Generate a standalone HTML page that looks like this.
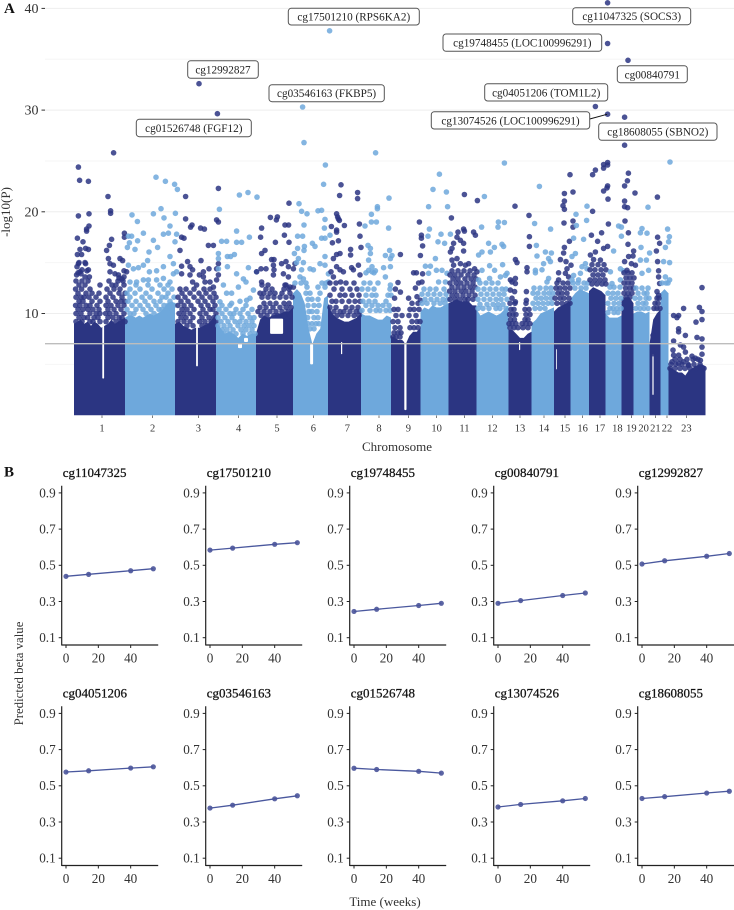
<!DOCTYPE html>
<html lang="en">
<head>
<meta charset="utf-8">
<title>Manhattan plot and predicted beta values</title>
<style>
html,body{margin:0;padding:0;background:#fff;width:734px;height:910px;overflow:hidden}
svg{display:block;font-family:"Liberation Serif",serif}
.bx{fill:#fff;stroke:#555;stroke-width:1}
.bt{font-size:11.2px;fill:#222;text-anchor:middle}
</style>
</head>
<body>
<svg id="fig" xmlns="http://www.w3.org/2000/svg" width="734" height="910" viewBox="0 0 734 910">
  <g id="grid"></g>
  <g id="dense"></g>
  <g id="points"></g>
  <g id="threshold"></g>
  <g id="axesA"></g>
  <g id="panels"></g>

  <text x="4" y="13" font-size="15" font-weight="bold" fill="#111">A</text>
  <text x="4" y="476.5" font-size="15" font-weight="bold" fill="#111">B</text>
  <text transform="translate(10,212) rotate(-90)" font-size="13" fill="#333" text-anchor="middle">-log10(P)</text>
  <text x="397" y="451" font-size="13" fill="#333" text-anchor="middle">Chromosome</text>
  <text transform="translate(23,673.5) rotate(-90)" font-size="12.8" fill="#333" text-anchor="middle">Predicted beta value</text>
  <text x="385" y="906" font-size="13" fill="#333" text-anchor="middle">Time (weeks)</text>

  <g><rect class="bx" x="187.7" y="60.7" width="70.6" height="17.6" rx="3"/><text class="bt" x="223" y="73.5">cg12992827</text></g>
  <g><rect class="bx" x="136.3" y="119.3" width="115" height="17.4" rx="3"/><text class="bt" x="193.8" y="132">cg01526748 (FGF12)</text></g>
  <g><rect class="bx" x="269" y="84.7" width="115.3" height="17" rx="3"/><text class="bt" x="326.6" y="97">cg03546163 (FKBP5)</text></g>
  <g><rect class="bx" x="288.3" y="8.3" width="131" height="16.7" rx="3"/><text class="bt" x="353.8" y="20.5">cg17501210 (RPS6KA2)</text></g>
  <g><rect class="bx" x="572.7" y="7.7" width="118" height="17" rx="3"/><text class="bt" x="631.7" y="20">cg11047325 (SOCS3)</text></g>
  <g><rect class="bx" x="443" y="34" width="158.7" height="17.3" rx="3"/><text class="bt" x="522.3" y="46.5">cg19748455 (LOC100996291)</text></g>
  <g><rect class="bx" x="617.3" y="65.7" width="70" height="17" rx="3"/><text class="bt" x="652.3" y="78.5">cg00840791</text></g>
  <g><rect class="bx" x="484.7" y="83.7" width="123" height="17.3" rx="3"/><text class="bt" x="546.2" y="96.5">cg04051206 (TOM1L2)</text></g>
  <line x1="589.7" y1="119" x2="607" y2="114.3" stroke="#111" stroke-width="1"/>
  <g><rect class="bx" x="431.3" y="111.7" width="158.4" height="17.3" rx="3"/><text class="bt" x="510.5" y="124.5">cg13074526 (LOC100996291)</text></g>
  <g><rect class="bx" x="598.7" y="123" width="118.3" height="17.3" rx="3"/><text class="bt" x="657.8" y="135.5">cg18608055 (SBNO2)</text></g>
</svg>

<script>
// ---- Panel A data: genome position in units of 10 Mb, value = -log10(P) ----
const chromNames = ['1','2','3','4','5','6','7','8','9','10','11','12','13','14','15','16','17','18','19','20','21','22','23'];
const chromLengths = [25.5,25,20.5,20,18.5,17.5,16.5,15,14.75,14,14,16,11.5,11.25,8.25,9.25,8.25,8,6,8,5.5,4,18.5];
const chromLabelPositions = [14,39.3,62.2,82.3,101.5,119.7,136.7,152.5,167.2,181.3,195.2,209.2,223,235,245.5,254.3,263,271.7,278.7,284.8,290.7,296.5,306.2];
const yMajorTicks = [10,20,30,40];
const yMinorTicks = [5,15,25,35];
const thresholdValue = 7.03;

// top of the fully saturated point mass, evenly sampled along each chromosome
const denseChr1 = [9,9.2,9.4,9,9.2,8.8,9.2,9,8.6,8.8,9,9.4,9,9.2,9.4,9.6];
const denseChr2 = [9.6,9.8,9.8,9.6,9.8,9.6,9.8,10,9.8,10,10.2,10.6,11,11.2,11];
const denseChr3 = [9,9.2,8.8,8.6,8.4,8.6,8.6,8.8,9,9.4,10];
const denseChr4 = [9.4,8.6,8,8.2,8,7.6,8,7.8,8,8];
const denseChr5 = [8,9.4,9.8,9.6,9.8,9.9,10,10.2,10.2,10.6];
const denseChr6 = [12,12.4,12,11,8.5,7,8,8.5,11.5,11.8];
const denseChr7 = [11,10,9.6,9.4,9.2,9.2,9.4,9.6,10];
const denseChr8 = [10,9.8,9.8,9.6,9.4,9.4,9.8,9.6];
const denseChr9 = [7.8,7.6,7.4,7.4,7,7.8,8.2,8.2,8.6];
const denseChr10 = [10.2,10.6,10.4,10.8,10.6,10.6,10.8,11];
const denseChr11 = [11,11.2,11.4,11.2,11.2,11.2,10.8,10.8];
const denseChr12 = [10.4,9.8,10,10.2,10,9.8,10,10.4,10.8];
const denseChr13 = [8.4,8.4,8,7.6,7.6,8,8.2];
const denseChr14 = [9,9.4,10,10.2,10.4,10.6];
const denseChr15 = [10.2,10.6,10.8,11,11.2];
const denseChr16 = [11.4,12,12.4,12.2,12];
const denseChr17 = [12.2,12.6,12.4,12.2,11.8];
const denseChr18 = [10,9.6,9.6,9.6,9.8];
const denseChr19 = [11.4,11.6,11.6,11];
const denseChr20 = [10,10.2,10.2,10,10.2];
const denseChr21 = [7,9.4,10,10.4];
const denseChr22 = [12,12.4,12];
const denseChr23 = [4.8,4.6,4.4,4.2,4.2,3.9,4.4,4.6,4.8,5,5,4.8];

// sparse genomic regions inside the mass: position, low value, high value, width
const sparsePositions = [14.6,61.5,83,86,101.3,118.8,133.8,165.7,222.8,241.2,289.5];
const sparseLows = [3.6,4.8,6.6,7.2,8,5,6,0.5,6.4,4.5,2];
const sparseHighs = [10.4,9,7.1,7.6,9.5,7,7.2,8,7.2,6.5,6];
const sparseWidths = [0.9,0.9,2,2,6.5,1.5,0.6,1.1,0.6,0.4,0.6];

// individually legible points
const pointsChr1 = [[2.2,24.4],[2.8,23.1],[7.2,23],[19.8,25.8],[17,21.5],[2.2,19.6],[7.5,19.8],[18.3,20.1],[18.3,19.85],[7.5,18.6],[6.3,18.3],[1.7,17.4],[6.3,18.1],[4.5,17.05],[5.8,16.4],[7.2,16.3],[3,16.3],[1.7,15.8],[3.8,15.8],[2.2,14.9],[5.8,14.9],[18.8,17.3],[16.3,16.2],[17.7,16.7],[17.2,15.4],[18,14.9],[19.7,14.75],[23,15.4],[24.3,15.2],[25.2,17.9],[25.2,17.5],[3,14.1],[7.2,14.3],[1.3,13.8],[5.5,13.6],[7.7,13.6],[13,12.8],[18,14.1],[20.5,13.9],[22.2,13.8],[25,14.2],[26.3,14.1],[1.5,14.6],[2.5,15],[4,14.3],[5.5,15],[6.5,14.2],[2,14],[3.5,13.9],[22.5,13.5],[24,13.4],[25,13.6]];
const pointsChr2 = [[41,23.4],[45.7,23],[50.3,22.7],[51.7,22.2],[29,19.7],[31.7,19.05],[39.7,19.8],[43.5,20.3],[45,19.4],[50.7,19.85],[48,18.6],[27.2,17.6],[28.8,17.6],[27.7,16.95],[30.5,16.3],[26.7,16.5],[31.8,17.15],[34.7,17.9],[39.7,17.2],[41.8,16.5],[37.5,16.05],[44.7,17.8],[47.2,17.9],[51.3,17.8],[50.5,17.05],[48,15.6],[49.7,14.9],[36.8,15.2],[34.7,14.75],[32.2,14.5],[29.7,14.4],[27.2,14.75],[44.7,14.6],[41.3,14.2],[37.7,14.1],[34.7,13.3],[37.2,13.3],[31.3,13.1],[28,13.1],[41.3,13.3],[44.7,13.45],[48,13.1],[49.7,13.9],[51.3,14.1]];
const pointsChr3 = [[62.5,32.6],[71.7,29.65],[72.2,22.3],[55.8,21.5],[55.8,19.3],[71.3,19.2],[72.2,19],[59,18.7],[58.3,18.5],[63.3,18.4],[65.2,18.3],[53,16.2],[53.8,17.5],[55,17.4],[67.2,16.7],[69.7,16.7],[56.8,15.1],[63.5,15.2],[72.2,14.9],[71.3,14.4],[53.8,14.65],[58,14.6],[59.3,14.3],[53.8,13.9],[58,13.8],[62.7,13.8],[64.7,13.6],[67.5,14.4],[64.7,14.1],[59.3,13.1],[61.3,12.8],[65.5,13.1],[68,13.1],[69.7,12.6],[72.2,13.8],[71.3,13.3]];
const pointsChr4 = [[72.7,20.25],[82.7,21.65],[87,21.9],[91.5,21.45],[81.3,18.1],[73.8,17.1],[76.3,17.1],[81.3,17],[83.8,17],[87.7,17.5],[72.2,15.9],[72.2,15.4],[76.7,15.6],[80.2,15.8],[78.3,15.6],[76.7,14.6],[72.2,14.4],[87.2,14.5],[81.3,13.9],[84.7,13.4],[86,13.1],[74.7,12.8],[76.3,12],[78.8,12],[82.2,12.6],[88,11.5],[89.7,12.3],[91.3,14.1],[73,11.15],[78.8,11],[83,11.2],[86.3,11.3]];
const pointsChr5 = [[107.5,20.85],[93.8,18.4],[98.2,19.45],[101.7,19.5],[101.2,19.2],[105.5,18.7],[107.3,18.7],[93.3,17.5],[105.2,17.7],[100.7,17],[107.5,17],[95.5,16.2],[93.8,15.9],[98.8,15.3],[100,15.3],[106,15.1],[103.8,14.9],[99.7,14.75],[100,14.3],[93.5,14.4],[96,14.4],[91.3,14.1],[107.2,14.6],[109.7,14.4],[110.5,14.9],[99.7,13.8],[104.7,13.9],[107.2,13.6],[93.8,13.1],[105.5,12.8],[108,12.6],[109.7,12.6]];
const pointsChr6 = [[127.8,37.8],[114.3,30.3],[115,26.8],[125.7,24.6],[124.8,22.7],[112.5,20.8],[113.8,20.05],[116.5,19.8],[122,20.1],[123.8,20.15],[125.5,19.25],[115,18.7],[125.2,18.4],[111.8,17.6],[114.3,17.6],[110.2,15.9],[111.8,16.4],[115.2,16.6],[115,16.2],[119.2,16.9],[120.5,16.6],[123.8,17.4],[128,17.7],[125.5,17.4],[125.5,15.6],[112.2,15.4],[114.7,15],[111.3,15],[113.8,14.3],[113,13.6],[114.7,13.4],[118,14.4],[119.7,14.3],[123,14.9],[125.5,14.75],[127.2,13.9],[127.2,13.1]];
const pointsChr7 = [[133.5,22.65],[132.8,21.6],[141.8,21.9],[141.8,21.3],[131.3,19.8],[131.8,19.5],[132.2,19.3],[132.7,19.15],[128.7,18.55],[135.2,18.65],[142.7,18.8],[131.3,18.2],[131.3,18],[132.2,17.15],[129.2,16.95],[138.3,16.3],[143.5,16.5],[143,17.6],[133,15.9],[131.3,15.8],[129.7,15.4],[138.3,15.75],[128.5,14.1],[131.3,14.6],[133,14.3],[134.7,14.1],[138.8,14.5],[139.7,14.3],[142.2,14.75],[143,13.8],[129.7,13.6],[133.3,13.1]];
const pointsChr8 = [[145.5,18.6],[150.8,25.8],[157.5,21.35],[151.7,20.5],[151.7,20.3],[148.7,19.75],[148.7,19],[151.2,19],[157.3,18.4],[148.2,16.4],[147,16.7],[148.2,15.9],[155.7,15.7],[157.8,16.2],[159,15.7],[158.2,15.4],[154.8,14.5],[158.2,14.6],[149,14.6],[147.3,15.25],[147.3,14.25],[149,14.1],[150.7,14.2],[155.7,13.6],[158.2,12.8]];
const pointsChr9 = [[172.7,19],[163.2,15.8],[173.7,17.7],[173.7,17.4],[174.3,16.65],[173.2,15.7],[169.8,14],[171.2,14],[174.3,13.9],[162,13.05],[174,13.1],[172.3,13],[170.7,12.5],[160.7,12.4],[163.2,12.1],[160.3,11.5],[167.3,11.5],[171.5,11.65],[173.2,11.3]];
const pointsChr10 = [[182.7,23.7],[179.5,22.2],[186.2,21.95],[177.3,20.5],[186.8,20.5],[177.7,18.3],[177,17.6],[182,17.05],[185.3,16.9],[183.5,17.8],[188.2,17.8],[180.7,15.4],[175.7,14.65],[178.2,14.65],[177.3,13.95],[181.2,14.25],[184,14.25],[182.3,13.1],[185.7,13.1],[186.5,13.95]];
const pointsChr11 = [[195.2,21.7],[201.7,21.1],[188.7,19.4],[194.8,18.3],[192,18],[195.2,18.1],[199.8,18],[200.7,17.7],[191.5,17.5],[193.2,17.2],[194.8,16.9],[189.8,16.9],[189,16.4],[188.2,16.05],[194.8,16.15],[191.5,15.4],[189,15.25],[189.8,14.75],[193.2,14.9],[197.3,14.9],[195.7,14.75],[200.3,14.4],[201.5,14.1]];
const pointsChr12 = [[215.2,24.8],[205.2,21.5],[212.2,19],[215.2,18.95],[212,18.5],[203.8,18.5],[204,16.05],[202.3,15.75],[207.3,16.9],[210.2,16.5],[208.2,16.05],[214,16.8],[214.8,16.6],[207.8,14.7],[214.3,14.8],[210.3,14.25],[204,14.25],[202.3,13.3],[207.8,13.45],[213.2,13.6],[215.7,13.75],[216.5,13.95]];
const pointsChr13 = [[220.5,20.55],[227.5,19.65],[227.7,17.55],[227.7,16.6],[220.7,15.3],[221.5,15],[226.5,14.5],[226.5,14.1],[218.2,13.3],[220.7,13.45],[219,13.1],[220.7,12.95],[218.2,12.3],[220.3,12.15],[226.2,12.15],[226.2,11.3],[219,11.5],[220.7,11.15]];
const pointsChr14 = [[232.7,22.5],[230.3,18.85],[238.3,18.3],[231.2,16.7],[231.5,15.65],[235.7,16.05],[238.7,15.95],[237.3,15.4],[234.8,14.9],[238.2,15.1],[230.7,14.25],[234,14.3],[230.7,14],[237.3,13.45],[236.5,13.1]];
const pointsChr15 = [[248,23.65],[245.2,21.8],[249.5,21.95],[245.2,21.05],[244.5,20.6],[245.2,20.25],[245,18.9],[249.5,19.1],[249.5,18.5],[245.2,16.5],[247.7,17.1],[244.8,15.95],[243.2,15.3],[246,15.1],[242.3,14],[246.5,14.4],[248.5,14.75],[245.7,13.95],[247.3,13.6],[242.3,13.3]];
const pointsChr16 = [[251,19.75],[256.5,20.55],[256.3,19.15],[251.2,18.65],[254.8,17.3],[249.8,17.4],[250.7,15.9],[249,15.6],[255.7,14.9],[254,14.6],[253.2,13.95],[249.8,13.75],[256.5,14.4],[249,13.3],[252.3,13.3]];
const pointsChr17 = [[266.8,40.55],[266.8,36.55],[260.7,30.35],[266.8,29.6],[260.7,24.1],[259.3,23.65],[264.8,24.65],[264.8,24.3],[266.8,24.85],[266.8,24.6],[266.8,22.55],[266.5,22.35],[264.8,22.05],[267,21.25],[259.3,20.05],[267.2,18.8],[263.8,17.94],[261.8,17.1],[258.7,17.7],[260.7,16.05],[258.2,15.75],[264.8,16.4],[266.8,16.6],[259.8,15.3],[263.2,15.25]];
const pointsChr18 = [[272.3,18.6],[273.7,18.5],[273.7,17.6],[269.8,16.15],[268.2,14.1],[273.2,14.4],[274.8,14.2],[269,12.95],[273.2,13.3]];
const pointsChr19 = [[277,34.9],[275.3,29.3],[275.3,26.55],[277.2,23.8],[276.7,23.05],[275.3,22.55],[280.5,21.85],[275.3,21.05],[275.3,20.5],[276.8,20.4],[275.5,19.1],[277.2,17.94],[277,16.8],[279.8,16.15],[279.5,15.65],[278.7,14.9],[280.7,14.75],[277.3,15.6],[275.3,15.1],[276.5,14.25]];
const pointsChr20 = [[287,20.45],[284,18.35],[283.2,17.94],[286.5,17.9],[283.5,16.5],[287.8,15.95],[283.2,15.25],[286.2,15.25],[287.3,14.25],[284,13.95]];
const pointsChr21 = [[291.7,21.45],[291.8,17.5],[292.8,16.9],[291.2,16.15],[291.8,15.1],[292.3,14.2],[292.3,13.6],[292.8,12.95],[291.5,12.15],[292.3,11.8],[289.5,7.85],[289.5,6.05]];
const pointsChr22 = [[298,24.9],[296.8,18.3],[297.7,17.55],[297.3,17.05],[295.7,16.5],[294.8,15.1],[297.8,15],[295.7,13.6],[297.8,13.3]];
const pointsChr23 = [[314,12.55],[312.7,10.6],[314,10.2],[304.8,10.5],[299.8,9.8],[302.3,9.8],[301.5,9.6],[314,9.4],[311,9.15],[302.3,8.5],[302.3,8.2],[305.7,7.85],[311.5,7.65],[314,7.5],[299.8,7.3],[314,6.7],[314,6],[303.2,6.9],[304.8,6.7],[305.7,6.2],[299.5,6.4],[299.8,5.9],[302.3,5.9],[304.8,5.25],[309,5.8],[310.7,5.6],[313.2,5.4],[299,5.25],[302.3,5.1],[307.3,4.9]];

// crowded band above the mass: each row is one value with the positions read along it
const rowsChr1 = [[13.2,[1,4,7,17.5,22,24.5]],[12.8,[2.5,5.5,19,21,25]],[12.4,[0.8,3.8,8,16.5,20,23]],[12,[2,6,9,12.5,18,22.5,25.5]],[11.6,[1,3.5,5,7.5,11,16,19.5,24]],[11.2,[2.5,4.5,9,13,17,21,23.5,25.5]],[10.8,[0.8,3,6,8,11.5,16,18.5,22,25]],[10.4,[2,4.5,7,9.5,12.5,17,20,23.5]],[10,[1,3.5,8,11,13,15.8,18,21,25]],[9.6,[2.5,5,6.8,10,12,17,19.5,22.5,24]],[9.2,[1,4,8,9.5,13,16,21,23.5,25.5]]];
const rowsChr2 = [[12.8,[31,37,43,47]],[12.4,[28,33,39,45,49]],[12,[26.5,30.5,36,42,47]],[11.6,[28,34,38,44,46,50]],[11.2,[27,31,35.5,40,43,48]],[10.8,[29,33,37,41,45,47,50]],[10.4,[26.5,31,34.5,38.5,42.5,44,49]],[10,[28,30,36,40,46,48]]];
const rowsChr3 = [[12.4,[53,56,60,65,68]],[12,[54,58,62.5,66,70]],[11.6,[52,55.5,60,64,68,71]],[11.2,[53.5,57,62,65.5,69.5]],[10.8,[52,55,58.5,63.5,67,70.5]],[10.4,[54,56.5,60,64.5,68,69.5]],[10,[52.5,55,58,63,66,71]],[9.6,[53.5,56,59.5,64,67.5,70]],[9.2,[52,55,58,62.8,65.5,68.5,71]],[8.8,[53,56.5,59.5,64,66.5,70]]];
const rowsChr4 = [[10.8,[74,78,86]],[10.4,[72.5,76,81,84.5,89]],[10,[74,78,80,83,87]],[9.6,[72,75.5,79,84,88,90]],[9.2,[73.5,77,80.5,83,86,89]],[8.8,[72,75,78,82,85,87.5,90]],[8.4,[74,76.5,79.5,83.5,86,89]],[8,[72.5,75,78,81,84.5,88,90.5]]];
const rowsChr5 = [[12.8,[94,97,106]],[12.4,[96,99,105,107.5]],[12,[93,95,98,100.5,104,108]],[11.6,[94,97,100,103,106,109]],[11,[95,98,101,105,107.5]],[10.6,[93,96,99.5,103,106,108.5]],[10.2,[92,95,98,101,104,107]],[9.8,[93.5,96.5,100,102,105,108]]];
const rowsChr6 = [[13,[110.5,113.5,116,124,126]],[12.6,[116.5,122,125.5]],[12,[116,118,123]],[11.4,[117,119,122]],[10.8,[117,120,122.5]],[10.2,[117.5,119,121.5]],[9.6,[116.8,120,122]],[9,[117,119,121,122.5]],[8.5,[118,120]]];
const rowsChr7 = [[13,[128,131,136,140]],[12.4,[130,134,138,141.5]],[11.8,[128,133,135.5,139,142.5]],[11.2,[129,131,134,137.5,140.5,143]],[10.6,[128,131,136,139,142]],[10.2,[130,133,135,138,141,143]],[9.8,[128.5,131.5,134,137,140,142.5]]];
const rowsChr8 = [[14,[146,150]],[13,[145,148,152]],[12.4,[144,147,150,158]],[11.8,[146,149,151,157,158.5]],[11.2,[144.5,147.5,150.5,156]],[10.8,[146,149,152,154.5,157.5]],[10.3,[144,148,151,153,156,158]]];
const rowsChr9 = [[11,[169,172]],[10.4,[160,162,168,170,172.5]],[9.8,[161,164,167.5,171]],[9.2,[159.5,162,169,171.5,173]],[8.6,[160.5,163,168,170,172]],[8.1,[160,162,163.5]],[7.7,[159.5,161,163]]];
const rowsChr10 = [[12.4,[175,178,181,185]],[11.9,[174,177,180,183,186]],[11.4,[175.5,178.5,181.5,184.5,186.8]],[11,[174,176.5,180,183,185.5]]];
const rowsChr11 = [[14.2,[189,192,195,198]],[13.8,[188,190.5,193.5,197,200]],[13.4,[189.5,192,195.5,198.5,201]],[13,[188,191,193.5,196.5,199.5]],[12.6,[189,192,195,198,200.5]],[12.2,[187.8,190.5,193.5,196,199]],[11.8,[189,191.5,194.5,197.5,200.5]],[11.4,[188,190.5,193,195.5,197,199.5]]];
const rowsChr12 = [[13,[203,206,209,212]],[12.4,[202,205,208,211,214,216]],[11.9,[203.5,206.5,209.5,212.5,215]],[11.4,[202,205,208,211,213.5,216.5]],[10.9,[203,206.5,209.5,212,214.5]],[10.5,[202,204.5,207.5,211,213,216]]];
const rowsChr13 = [[11,[218,220.5,226]],[10.4,[218.5,220,225.5,227.5]],[9.9,[217.8,219.5,221,226,228]],[9.4,[218.3,220.2,225.5,227]],[9,[217.5,219,221,224,226,228]],[8.6,[218,220,222,224.5,227]]];
const rowsChr14 = [[12.5,[230,233,236,238.5]],[12,[229.5,232,235,237.5,239.5]],[11.5,[231,233.5,236,238.5]],[11,[229.5,232,234.5,237,239]],[10.5,[230.5,233,235.5]]];
const rowsChr15 = [[13,[241.5,244.5,247]],[12.5,[241,243,245.5,248]],[12,[242,244,246.5]],[11.5,[240.5,243,245,247.5]],[11,[241.5,244,246.5,248]]];
const rowsChr16 = [[13,[249.5,252,255,257]],[12.5,[250.5,253.5,256]]];
const rowsChr17 = [[14.8,[259,262,265]],[14.3,[258,260.5,263.5,266]],[13.8,[259.5,262,264.5]],[13.3,[258,260.5,263,265.5]],[12.9,[259,261.5,264,266]]];
const rowsChr18 = [[12.6,[268,270,273]],[12,[267,269.5,272]],[11.5,[268.5,271,273.5]],[11,[267,270,272.5]],[10.5,[268,269.5,271.5,273.5]],[10.1,[267,270,272]]];
const rowsChr19 = [[14,[275,277,279]],[13.5,[276,278,280]],[13,[275,277,279]],[12.5,[275.8,278,279.8]],[12,[275,277,279]],[11.6,[276,278]]];
const rowsChr20 = [[12.5,[281,284,287]],[12,[282,285,286.5]],[11.5,[280.5,283,286,287.5]],[11,[282,284.5,286]],[10.5,[281,283,285,287]]];
const rowsChr21 = [[11.5,[291.5,292.5]],[11,[290.5,292]],[10.5,[290,291.5,293]]];
const rowsChr22 = [[13,[294,296,297]]];
const rowsChr23 = [[5.5,[300.5,303,306.5,309.5,312]],[5,[298.5,301,304,307,310,313]],[4.6,[298,300.5,303,305.5,308,311,314,315]]];

const denseProfiles = [denseChr1,denseChr2,denseChr3,denseChr4,denseChr5,denseChr6,denseChr7,denseChr8,denseChr9,denseChr10,denseChr11,denseChr12,denseChr13,denseChr14,denseChr15,denseChr16,denseChr17,denseChr18,denseChr19,denseChr20,denseChr21,denseChr22,denseChr23];
const chromPoints = [pointsChr1,pointsChr2,pointsChr3,pointsChr4,pointsChr5,pointsChr6,pointsChr7,pointsChr8,pointsChr9,pointsChr10,pointsChr11,pointsChr12,pointsChr13,pointsChr14,pointsChr15,pointsChr16,pointsChr17,pointsChr18,pointsChr19,pointsChr20,pointsChr21,pointsChr22,pointsChr23];
const chromRows = [rowsChr1,rowsChr2,rowsChr3,rowsChr4,rowsChr5,rowsChr6,rowsChr7,rowsChr8,rowsChr9,rowsChr10,rowsChr11,rowsChr12,rowsChr13,rowsChr14,rowsChr15,rowsChr16,rowsChr17,rowsChr18,rowsChr19,rowsChr20,rowsChr21,rowsChr22,rowsChr23];

// ---- Panel B data ----
const timeWeeks = [0,14,40,54];
const betaTicks = [0.1,0.3,0.5,0.7,0.9];
const weekTicks = [0,20,40];
const probeNames = ['cg11047325','cg17501210','cg19748455','cg00840791','cg12992827','cg04051206','cg03546163','cg01526748','cg13074526','cg18608055'];
const betaCg11047325 = [0.439,0.45,0.47,0.481];
const betaCg17501210 = [0.584,0.595,0.616,0.625];
const betaCg19748455 = [0.245,0.257,0.278,0.29];
const betaCg00840791 = [0.29,0.305,0.333,0.347];
const betaCg12992827 = [0.507,0.525,0.55,0.565];
const betaCg04051206 = [0.576,0.583,0.598,0.605];
const betaCg03546163 = [0.377,0.393,0.428,0.445];
const betaCg01526748 = [0.597,0.59,0.58,0.57];
const betaCg13074526 = [0.383,0.397,0.417,0.43];
const betaCg18608055 = [0.43,0.44,0.46,0.47];
const probeBetas = [betaCg11047325,betaCg17501210,betaCg19748455,betaCg00840791,betaCg12992827,betaCg04051206,betaCg03546163,betaCg01526748,betaCg13074526,betaCg18608055];

// ---- Rendering ----
const NS = 'http://www.w3.org/2000/svg';
const DARK = '#2b3582', LIGHT = '#6ea8dc';
function genomeX(pos){ return 74 + 2 * pos; }
function logY(v){ return 415.2 - 10.17 * v; }
function mk(tag, attrs, parent, text){
  const el = document.createElementNS(NS, tag);
  for (const k in attrs) el.setAttribute(k, attrs[k]);
  if (text !== undefined) el.textContent = text;
  parent.appendChild(el);
  return el;
}
const gridG = document.getElementById('grid');
const denseG = document.getElementById('dense');
const pointsG = document.getElementById('points');
const thresholdG = document.getElementById('threshold');
const axesG = document.getElementById('axesA');
const panelsG = document.getElementById('panels');

yMinorTicks.forEach(function(v){
  const el = mk('line', {x1:45, x2:734, y1:logY(v), y2:logY(v), stroke:'#f6f6f6', 'stroke-width':1}, gridG);
  
  
});
yMajorTicks.forEach(function(v){
  const el = mk('line', {x1:45, x2:734, y1:logY(v), y2:logY(v), stroke:'#eeeeee', 'stroke-width':1}, gridG);
  
  
  const tick = mk('line', {x1:41.5, x2:45, y1:logY(v), y2:logY(v), stroke:'#333', 'stroke-width':1}, axesG);
  
  
  const lab = mk('text', {x:38.5, y:logY(v)+4.6, 'text-anchor':'end', 'font-size':14, fill:'#333'}, axesG, String(v));
  
  
});

let cumulative = 0;
chromNames.forEach(function(name, i){
  const start = cumulative, len = chromLengths[i], prof = denseProfiles[i];
  const color = i % 2 === 0 ? DARK : LIGHT;
  let d = 'M' + genomeX(start) + ' ' + logY(0);
  prof.forEach(function(v, j){
    const p = start + len * j / (prof.length - 1);
    d += 'L' + genomeX(p).toFixed(1) + ' ' + logY(v).toFixed(1);
  });
  d += 'L' + genomeX(start + len) + ' ' + logY(0) + 'Z';
  const area = mk('path', {d:d, fill:color}, denseG);
  
  
  cumulative += len;
});
sparsePositions.forEach(function(p, i){
  const w = 2 * sparseWidths[i];
  const top = logY(sparseHighs[i]), bot = logY(sparseLows[i]);
  const hole = mk('rect', {x:genomeX(p) - w / 2, y:top, width:w, height:bot - top, rx:Math.min(1, w / 2), fill:'#fff'}, denseG);
  
  
});
function drawPoint(pos, val, i){
  const color = i % 2 === 0 ? DARK : LIGHT;
  const c = mk('circle', {cx:genomeX(pos).toFixed(1), cy:logY(val).toFixed(1), r:2.8, fill:color, 'fill-opacity':0.85}, pointsG);
  
  
}
chromNames.forEach(function(name, i){
  chromRows[i].forEach(function(row){
    row[1].forEach(function(pos){ drawPoint(pos, row[0], i); });
  });
  chromPoints[i].forEach(function(pt){ drawPoint(pt[0], pt[1], i); });
});
const thresh = mk('line', {x1:45, x2:734, y1:logY(thresholdValue), y2:logY(thresholdValue), stroke:'#bdbdbd', 'stroke-width':1.4}, thresholdG);



chromNames.forEach(function(name, i){
  const x = genomeX(chromLabelPositions[i]);
  const tick = mk('line', {x1:x, x2:x, y1:415.5, y2:418, stroke:'#444', 'stroke-width':0.7}, axesG);
  
  
  const lab = mk('text', {x:x, y:431.5, 'text-anchor':'middle', 'font-size':10.5, fill:'#333'}, axesG, name);
  
  
});

probeNames.forEach(function(name, i){
  const col = i % 5, row = Math.floor(i / 5);
  const axisX = 61.7 + 144 * col, dy = 220.5 * row;
  const g = mk('g', {}, panelsG);
  
  
  function weekX(w){ return axisX + 4.3 + 1.617 * w; }
  function betaY(b){ return dy + 565.3 - 181 * (b - 0.5); }
  const title = mk('text', {x:axisX + 1, y:dy + 477, 'font-size':13, fill:'#111', stroke:'#111', 'stroke-width':0.25}, g, name);
  
  
  const yAxis = mk('line', {x1:axisX, x2:axisX, y1:dy + 485.7, y2:dy + 645.5, stroke:'#222', 'stroke-width':1.2}, g);
  
  
  const xAxis = mk('line', {x1:axisX, x2:axisX + 96.5, y1:dy + 645, y2:dy + 645, stroke:'#222', 'stroke-width':1.2}, g);
  
  
  betaTicks.forEach(function(b){
    const y = betaY(b);
    const t = mk('line', {x1:axisX - 3, x2:axisX, y1:y, y2:y, stroke:'#222', 'stroke-width':1}, g);
    
    
    const l = mk('text', {x:axisX - 6, y:y + 4.4, 'text-anchor':'end', 'font-size':13.2, fill:'#333'}, g, b.toFixed(1));
    
    
  });
  weekTicks.forEach(function(w){
    const x = weekX(w);
    const t = mk('line', {x1:x, x2:x, y1:dy + 645, y2:dy + 648, stroke:'#222', 'stroke-width':1}, g);
    
    
    const l = mk('text', {x:x, y:dy + 662.5, 'text-anchor':'middle', 'font-size':13.2, fill:'#333'}, g, String(w));
    
    
  });
  const betas = probeBetas[i];
  const pts = timeWeeks.map(function(w, j){ return weekX(w).toFixed(1) + ',' + betaY(betas[j]).toFixed(1); }).join(' ');
  const line = mk('polyline', {points:pts, fill:'none', stroke:'#4a589e', 'stroke-width':1.3}, g);
  
  
  timeWeeks.forEach(function(w, j){
    const c = mk('circle', {cx:weekX(w), cy:betaY(betas[j]), r:2.6, fill:'#4a549a', 'fill-opacity':0.9}, g);
    
    
  });
});
</script>
</body>
</html>
